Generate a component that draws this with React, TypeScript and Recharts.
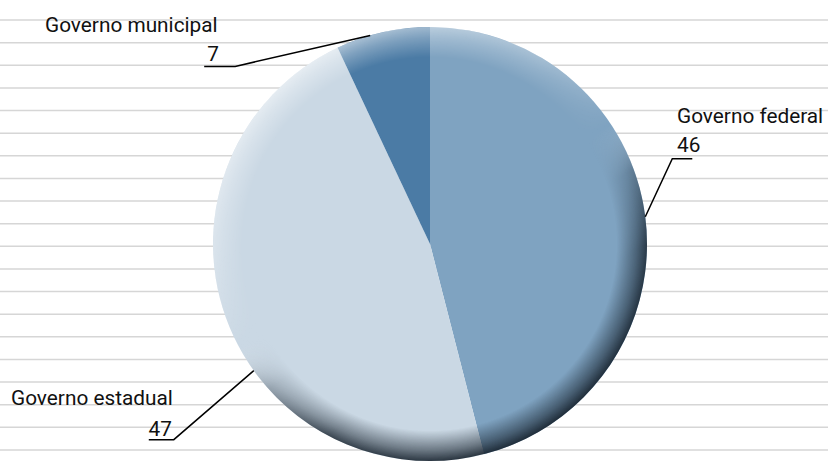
import React from "react";
import { PieChart, Pie, Cell, Sector, LineChart, Line, CartesianGrid, XAxis, YAxis } from "recharts";

const categories = ["Governo federal", "Governo estadual", "Governo municipal"];
const values = [46, 47, 7];
const colors = ["#7fa3c1", "#cad8e4", "#4b7ba5"];
const gridTicks = [0, 1, 2, 3, 4, 5, 6, 7, 8, 9, 10, 11, 12, 13, 14, 15, 16, 17, 18, 19];

const W = 828;
const H = 462;
const FONT = "'Roboto', 'Liberation Sans', sans-serif";

// label layout: anchor angle on rim (deg), elbow offset, shelf length, text positions
const labelLayout = [
  { anchor: null as number | null, elbow: [27, -58], shelf: 20, textX: 677, textY: 123, valX: 677, valY: 152, valAnchor: "start" },
  { anchor: -144.3, elbow: [-80, 69], shelf: -25, textX: 11, textY: 405, valX: 172, valY: 436, valAnchor: "end" },
  { anchor: 106, elbow: [-135, 31], shelf: -31, textX: 45, textY: 32, valX: 219, valY: 61, valAnchor: "end" },
];

const pieData = categories.map((name, i) => ({ name, value: values[i] }));
const gridMin = gridTicks[0];
const gridMax = gridTicks[gridTicks.length - 1];
const gridData = [{ x: 0, y: gridMin }, { x: 1, y: gridMax }];
const overlayData = [{ v: 1 }];

const RAD = Math.PI / 180;

function gridCoords(p: any) {
  const scale = p?.yAxis?.scale;
  return gridTicks.map((t) => {
    if (typeof scale === "function") {
      const v = scale(t);
      if (typeof v === "number" && !isNaN(v)) return v;
    }
    const off = p.offset;
    return off.top + off.height * (1 - (t - gridMin) / (gridMax - gridMin));
  });
}

function renderLabel(props: any) {
  const { cx, cy, outerRadius, midAngle, index, value, name } = props;
  const L = labelLayout[index];
  const ang = L.anchor == null ? midAngle : L.anchor;
  const x0 = cx + outerRadius * Math.cos(ang * RAD);
  const y0 = cy - outerRadius * Math.sin(ang * RAD);
  const x1 = x0 + L.elbow[0];
  const y1 = y0 + L.elbow[1];
  const x2 = x1 + L.shelf;
  return (
    <g>
      <polyline points={`${x0},${y0} ${x1},${y1} ${x2},${y1}`} fill="none" stroke="#000" strokeWidth={1.5} />
      <text x={L.textX} y={L.textY} fontFamily={FONT} fontSize={20.8} fill="#111" textAnchor="start">
        {name}
      </text>
      <text x={L.valX} y={L.valY} fontFamily={FONT} fontSize={20.8} fill="#111" textAnchor={L.valAnchor as any}>
        {value}
      </text>
    </g>
  );
}

const rimShape = (props: any) => (
  <g mask="url(#ringMask)">
    <Sector {...props} />
  </g>
);

export default function App() {
  return (
    <div style={{ position: "absolute", left: 0, top: 0, width: W, height: H, background: "#fff" }}>
      <div style={{ position: "absolute", left: 0, top: 0 }}>
        <LineChart width={W} height={H} data={gridData} margin={{ top: 20, right: 0, bottom: 12, left: 0 }}>
          <XAxis dataKey="x" hide />
          <YAxis type="number" domain={[gridMin, gridMax]} ticks={gridTicks} interval={0} hide />
          <CartesianGrid
            vertical={false}
            stroke="#d6d6d6"
            strokeWidth={1.5}
            horizontalCoordinatesGenerator={gridCoords}
          />
          <Line dataKey="y" stroke="none" dot={false} isAnimationActive={false} />
        </LineChart>
      </div>
      <div style={{ position: "absolute", left: 0, top: 0 }}>
        <PieChart width={W} height={H} margin={{ top: 0, right: 0, bottom: 0, left: 0 }}>
          <defs>
            <radialGradient id="ringGrad" cx="50%" cy="50%" r="50%">
              <stop offset="0.86" stopColor="#000" />
              <stop offset="0.95" stopColor="#999" />
              <stop offset="1" stopColor="#fff" />
            </radialGradient>
            <mask id="ringMask" maskContentUnits="objectBoundingBox">
              <rect x={0} y={0} width={1} height={1} fill="url(#ringGrad)" />
            </mask>
            <linearGradient id="rimColor" x1="0.2" y1="0" x2="0.8" y2="1">
              <stop offset="0" stopColor="#ffffff" stopOpacity={0.6} />
              <stop offset="0.3" stopColor="#ffffff" stopOpacity={0.3} />
              <stop offset="0.48" stopColor="#ffffff" stopOpacity={0} />
              <stop offset="0.58" stopColor="#16212c" stopOpacity={0.3} />
              <stop offset="0.72" stopColor="#16212c" stopOpacity={0.8} />
              <stop offset="1" stopColor="#16212c" stopOpacity={0.95} />
            </linearGradient>
          </defs>
          <Pie
            data={pieData}
            dataKey="value"
            nameKey="name"
            cx={430}
            cy={244}
            outerRadius={217}
            startAngle={90}
            endAngle={-270}
            stroke="none"
            isAnimationActive={false}
            label={renderLabel}
            labelLine={false}
          >
            {pieData.map((d, i) => (
              <Cell key={d.name} fill={colors[i]} />
            ))}
          </Pie>
          <Pie
            data={overlayData}
            dataKey="v"
            cx={430}
            cy={244}
            outerRadius={217}
            startAngle={90}
            endAngle={-270}
            stroke="none"
            fill="url(#rimColor)"
            shape={rimShape}
            isAnimationActive={false}
            legendType="none"
          />
        </PieChart>
      </div>
    </div>
  );
}
